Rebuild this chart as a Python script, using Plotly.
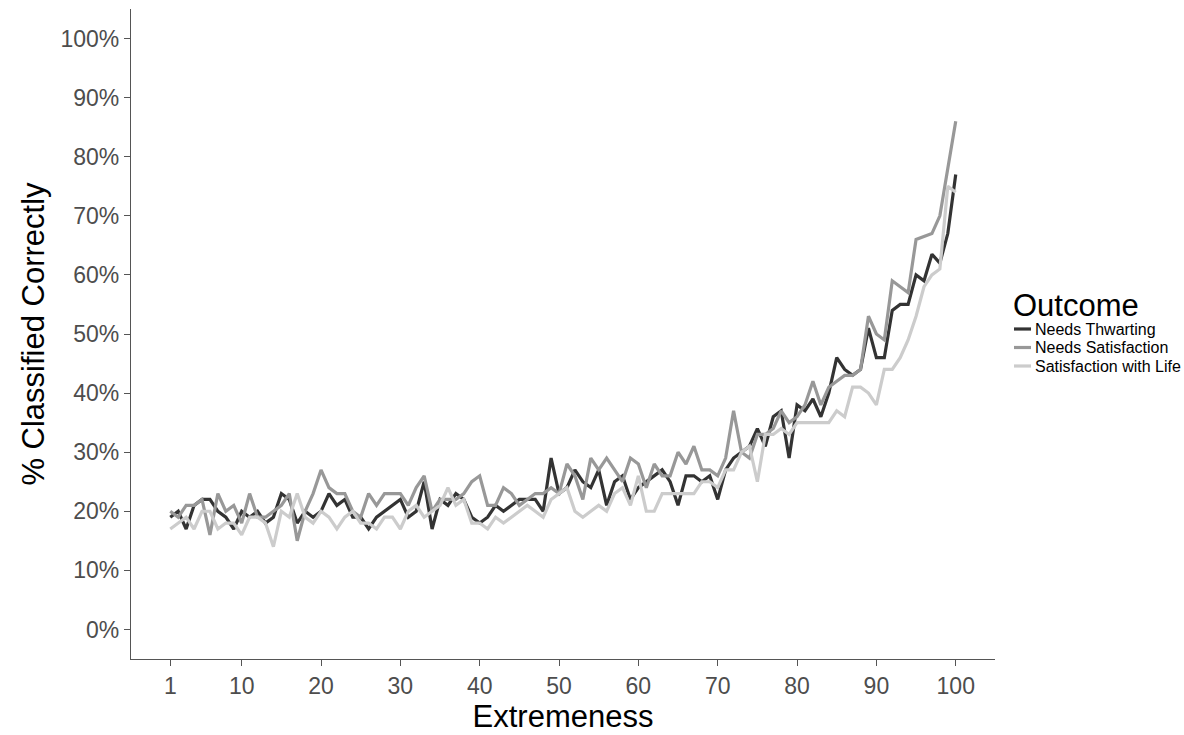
import plotly.graph_objects as go

extremeness = list(range(1, 101))

needs_thwarting = [
    19, 20, 17, 21, 22, 22, 20, 19, 17, 20,
    19, 20, 18, 19, 23, 22, 18, 20, 19, 20,
    23, 21, 22, 19, 19, 17, 19, 20, 21, 22,
    19, 20, 25, 17, 22, 21, 23, 22, 19, 18,
    19, 21, 20, 21, 22, 22, 22, 20, 29, 23,
    24, 27, 25, 24, 27, 21, 25, 26, 22, 24,
    25, 26, 27, 25, 21, 26, 26, 25, 26, 22,
    27, 29, 30, 31, 34, 31, 36, 37, 29, 38,
    37, 39, 36, 40, 46, 44, 43, 44, 51, 46,
    46, 54, 55, 55, 60, 59, 63.5, 62, 67, 77,
]

needs_satisfaction = [
    20, 19, 21, 21, 22, 16, 23, 20, 21, 18,
    23, 19, 19, 20, 21, 23, 15, 20, 23, 27,
    24, 23, 23, 20, 19, 23, 21, 23, 23, 23,
    21, 24, 26, 20, 22, 22, 22, 23, 25, 26,
    21, 21, 24, 23, 21, 22, 23, 23, 24, 23,
    28, 26, 22, 29, 27, 29, 27, 25, 29, 28,
    24, 28, 26, 26, 30, 28, 31, 27, 27, 26,
    29, 37, 30, 29, 33, 33, 34, 37, 35, 36,
    38, 42, 38, 41, 42, 43, 43, 44, 53, 50,
    49, 59, 58, 57, 66, 66.5, 67, 70, 78, 86,
]

satisfaction_with_life = [
    17, 18, 19, 17, 20, 20, 17, 18, 18, 16,
    19, 19, 18, 14, 20, 19, 23, 19, 18, 20,
    19, 17, 19, 20, 18, 18, 17, 19, 19, 17,
    20, 21, 19, 20, 21, 24, 21, 22, 18, 18,
    17, 19, 18, 19, 20, 21, 20, 19, 22, 23,
    24, 20, 19, 20, 21, 20, 23, 24, 21, 26,
    20, 20, 23, 23, 23, 23, 23, 25, 25, 24,
    27, 27, 30, 31, 25, 33, 33, 34, 33, 35,
    35, 35, 35, 35, 37, 36, 41, 41, 40, 38,
    44, 44, 46, 49, 53, 58, 60, 61, 75, 74,
]

series_names = ["Needs Thwarting", "Needs Satisfaction", "Satisfaction with Life"]
series_values = [needs_thwarting, needs_satisfaction, satisfaction_with_life]
series_colors = ["#333333", "#989898", "#cccccc"]

x_tickvals = [1, 10, 20, 30, 40, 50, 60, 70, 80, 90, 100]
y_tickvals = list(range(0, 101, 10))
y_ticktext = [f"{v}%" for v in y_tickvals]

FONT = "Liberation Sans, Arial, sans-serif"

fig = go.Figure()
for name, vals, col in zip(series_names, series_values, series_colors):
    fig.add_trace(go.Scatter(x=extremeness, y=vals, mode="lines", name=name,
                             line=dict(color=col, width=3.2), showlegend=False))

# plot area geometry (px)
L, R, T, B = 131, 995, 9, 659
W, H = 1184, 735
def px(x):
    return (x - L) / (R - L)
def py(y):
    return (B - y) / (B - T)

shapes = []
annotations = []
annotations.append(dict(text="Outcome", x=px(1011), y=py(305), xref="paper", yref="paper",
                        xanchor="left", yanchor="middle", showarrow=False,
                        font=dict(family=FONT, size=31, color="black")))
item_y = [329, 347.5, 366]
for name, col, yy in zip(series_names, series_colors, item_y):
    shapes.append(dict(type="line", xref="paper", yref="paper",
                       x0=px(1014), x1=px(1031), y0=py(yy), y1=py(yy),
                       line=dict(color=col, width=3.2)))
    annotations.append(dict(text=name, x=px(1033), y=py(yy), xref="paper", yref="paper",
                            xanchor="left", yanchor="middle", showarrow=False,
                            font=dict(family=FONT, size=16, color="black")))

fig.update_layout(
    width=W, height=H,
    margin=dict(l=L, r=W - R, t=T, b=H - B),
    paper_bgcolor="white", plot_bgcolor="white",
    font=dict(family=FONT),
    shapes=shapes, annotations=annotations,
    xaxis=dict(range=[-3.95, 104.95], tickvals=x_tickvals, showgrid=False, zeroline=False,
               showline=True, linecolor="#555555", linewidth=1.2,
               ticks="outside", ticklen=6, tickcolor="#555555", tickwidth=1.2,
               tickfont=dict(family=FONT, size=23, color="#4d4d4d"),
               title=dict(text="Extremeness", font=dict(family=FONT, size=31, color="black"), standoff=4)),
    yaxis=dict(range=[-5, 105], tickvals=y_tickvals, ticktext=y_ticktext, showgrid=False, zeroline=False,
               showline=True, linecolor="#555555", linewidth=1.2,
               ticks="outside", ticklen=6, tickcolor="#555555", tickwidth=1.2,
               tickfont=dict(family=FONT, size=23, color="#4d4d4d"),
               title=dict(text="% Classified Correctly", font=dict(family=FONT, size=31, color="black"), standoff=6)),
)

fig.write_html("out.html")
